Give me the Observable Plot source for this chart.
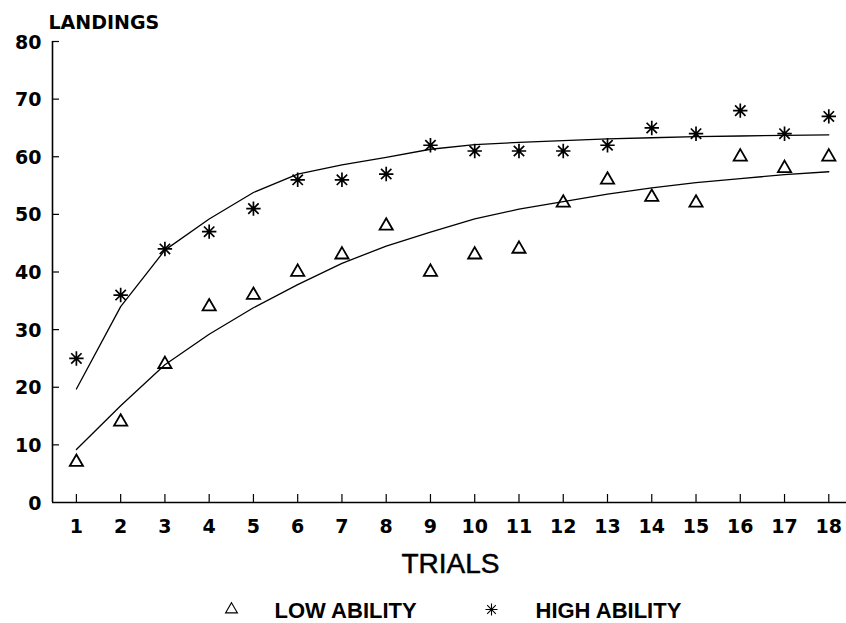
<!DOCTYPE html>
<html><head><meta charset="utf-8">
<script src="https://cdn.jsdelivr.net/npm/d3@7"></script>
<script src="https://cdn.jsdelivr.net/npm/@observablehq/plot@0.6"></script>
<style>body{margin:0;background:#fff}</style>
</head><body><div id="chart"></div>
<script>
const trials = [1,2,3,4,5,6,7,8,9,10,11,12,13,14,15,16,17,18];
const lowAbility  = [7,14,24,34,36,40,43,48,40,43,44,52,56,53,52,60,58,60];
const highAbility = [25,36,44,47,51,56,56,57,62,61,61,61,62,65,64,68,64,67];
const lowFit  = [9.2,16.8,23.9,29.2,33.8,37.8,41.5,44.5,46.9,49.2,50.9,52.2,53.5,54.6,55.5,56.2,56.9,57.4];
const highFit = [19.7,34.0,43.8,49.2,53.8,57.0,58.6,59.9,61.3,62.1,62.5,62.8,63.1,63.3,63.5,63.6,63.7,63.8];
const yTicks = [0,10,20,30,40,50,60,70,80];
const yLabel = "LANDINGS";
const xLabel = "TRIALS";
const legendLabels = ["LOW ABILITY", "HIGH ABILITY"];

const W = 846, H = 623, mL = 52, mR = 0, mT = 41, mB = 121;
const xDomain = [0.46, 18.4];
const rows = trials.map((t, i) => ({trial: t, low: lowAbility[i], high: highAbility[i], lowFit: lowFit[i], highFit: highFit[i]}));

// 8-armed asterisk symbol
const star8 = {
  draw(ctx, size) {
    const r = Math.sqrt(size / Math.PI), d = r * 0.72;
    ctx.moveTo(0, -r); ctx.lineTo(0, r);
    ctx.moveTo(-r, 0); ctx.lineTo(r, 0);
    ctx.moveTo(-d, -d); ctx.lineTo(d, d);
    ctx.moveTo(-d, d); ctx.lineTo(d, -d);
  }
};

const tickFont = "DejaVu Sans";
const textFont = "Liberation Sans";

const chart = Plot.plot({
  width: W, height: H,
  marginLeft: mL, marginRight: mR, marginTop: mT, marginBottom: mB,
  x: {domain: xDomain, axis: null},
  y: {domain: [0, 80], axis: null},
  style: {background: "#fff", color: "#000", fontFamily: textFont},
  marks: [
    Plot.ruleY([0], {stroke: "#000", strokeWidth: 1.6}),
    Plot.ruleX([xDomain[0]], {stroke: "#000", strokeWidth: 1.6}),
    Plot.tickY(yTicks.filter(d => d > 0), {y: d => d, stroke: "#000", strokeWidth: 1.2, insetRight: (W - mL - mR) - 7}),
    Plot.tickX(trials, {x: d => d, stroke: "#000", strokeWidth: 1.2, insetTop: (H - mT - mB) - 8}),
    Plot.text(yTicks, {y: d => d, text: d => String(d), frameAnchor: "left", textAnchor: "end", dx: -11, dy: 1, fontSize: 19, fontWeight: "bold", fontFamily: tickFont, fill: "#000"}),
    Plot.text(trials, {x: d => d, text: d => String(d), frameAnchor: "bottom", lineAnchor: "middle", dy: 24, fontSize: 19, fontWeight: "bold", fontFamily: tickFont, fill: "#000"}),
    Plot.text([yLabel], {text: d => d, frameAnchor: "top-left", textAnchor: "start", lineAnchor: "middle", dx: -4, dy: -19, fontSize: 19, fontWeight: "bold", fontFamily: tickFont, letterSpacing: 1.8, fill: "#000"}),
    Plot.text([xLabel], {text: d => d, frameAnchor: "bottom", lineAnchor: "middle", dx: 1, dy: 62, fontSize: 28, fontFamily: textFont, fill: "#000", stroke: "#000", strokeWidth: 0.5}),
    Plot.line(rows, {x: "trial", y: "lowFit", stroke: "#000", strokeWidth: 1.3}),
    Plot.line(rows, {x: "trial", y: "highFit", stroke: "#000", strokeWidth: 1.3}),
    Plot.dot(rows, {x: "trial", y: "low", symbol: "triangle", r: 4.9, stroke: "#000", strokeWidth: 1.8, fill: "none"}),
    Plot.dot(rows, {x: "trial", y: "high", symbol: star8, r: 7.2, stroke: "#000", strokeWidth: 1.7}),
    // legend
    Plot.dot([legendLabels[0]], {frameAnchor: "bottom-left", dx: 179, dy: 107, symbol: "triangle", r: 4.4, stroke: "#000", strokeWidth: 1.1, fill: "none"}),
    Plot.text([legendLabels[0]], {text: d => d, frameAnchor: "bottom-left", textAnchor: "start", lineAnchor: "middle", dx: 222, dy: 108, fontSize: 22, fontWeight: "bold", fontFamily: textFont, letterSpacing: 0.6, fill: "#000"}),
    Plot.dot([legendLabels[1]], {frameAnchor: "bottom-left", dx: 439, dy: 107, symbol: star8, r: 6, stroke: "#000", strokeWidth: 1.1}),
    Plot.text([legendLabels[1]], {text: d => d, frameAnchor: "bottom-left", textAnchor: "start", lineAnchor: "middle", dx: 483, dy: 108, fontSize: 22, fontWeight: "bold", fontFamily: textFont, letterSpacing: 0.6, fill: "#000"})
  ]
});
document.getElementById("chart").appendChild(chart);
</script>
</body></html>
